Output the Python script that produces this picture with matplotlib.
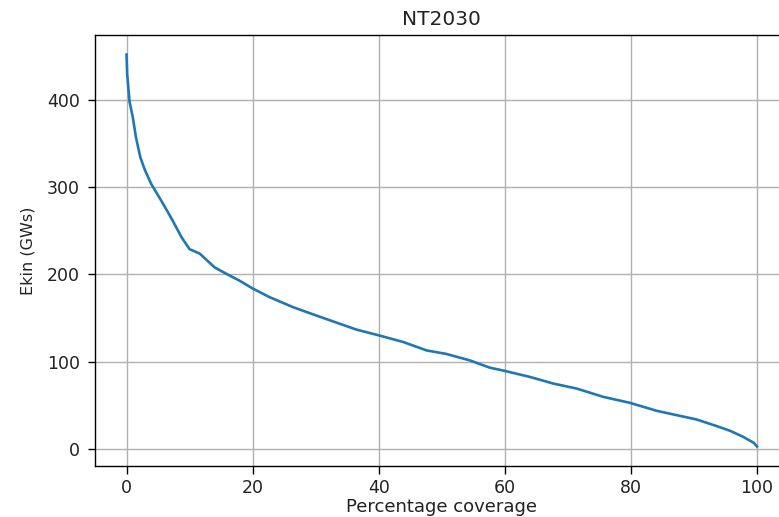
import matplotlib.pyplot as plt

coverage = [0, 0.1, 0.48, 1.0, 1.5, 2.2, 2.9, 3.9, 5.8, 7.3, 8.7, 10.0, 11.6, 14.0, 16.3,
            17.9, 20.0, 22.7, 26.4, 30.1, 33.8, 36.5, 40.0, 43.9, 47.6, 50.7, 54.4,
            57.6, 60.0, 64.0, 67.7, 71.4, 75.6, 79.8, 84.1, 87.2, 90.4, 93.6, 95.7,
            97.8, 99.5, 100.0]
ekin = [452, 430, 398, 380, 357, 334, 320, 304, 281, 262, 243, 229, 224, 208, 199,
        193, 184, 174, 162.6, 153, 143.6, 136.8, 130.3, 122.6, 113, 109, 101.7,
        93.3, 89.5, 82.6, 75, 69.3, 59.8, 53, 43.8, 38.9, 33.9, 26.3, 21,
        14, 7, 3]

fig = plt.figure(figsize=(7.79, 5.17), dpi=100)
ax = fig.add_axes([95 / 779, 51 / 517, 693.5 / 779, 431 / 517])
ax.plot(coverage, ekin, color='#1f77b4', linewidth=1.9)
ax.grid(True, color='#b0b0b0', linewidth=1.0)
ax.set_title('NT2030', fontsize=14.5, pad=7.5, color='#222222')
ax.set_xlabel('Percentage coverage', fontsize=13, labelpad=1, color='#222222')
ax.set_ylabel('Ekin (GWs)', fontsize=11.5, labelpad=8, color='#222222')
ax.tick_params(labelsize=12.5, length=5.4, width=1.0, labelcolor='#222222')
ax.tick_params(axis='y', pad=5.5)
ax.tick_params(axis='x', pad=4)
for s in ax.spines.values():
    s.set_linewidth(1.0)
ax.set_xticks([0, 20, 40, 60, 80, 100])
ax.set_yticks([0, 100, 200, 300, 400])

fig.savefig('out.png', dpi=100)
